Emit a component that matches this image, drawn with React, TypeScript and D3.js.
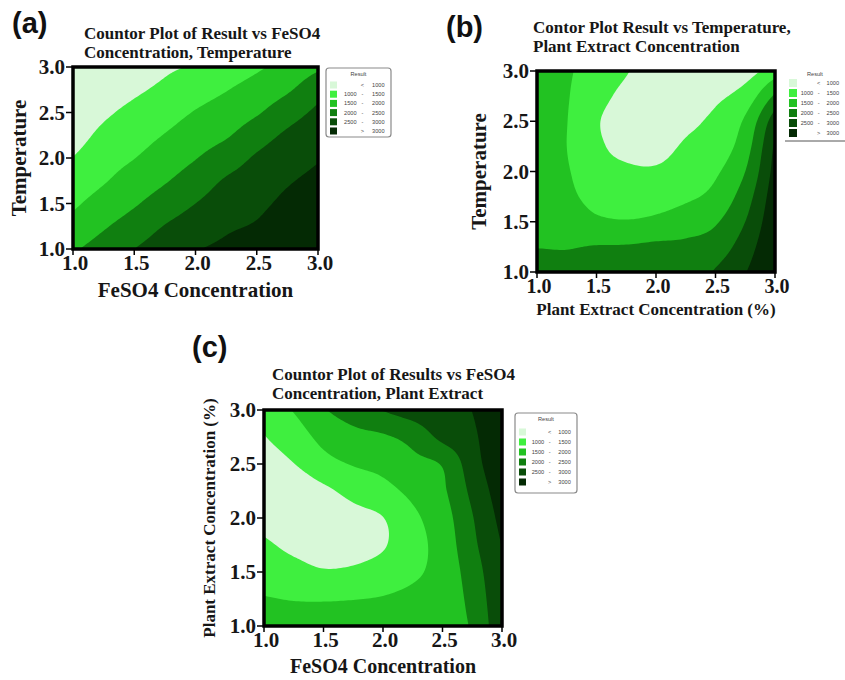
import React from "react";
import * as d3 from "d3";

// factor levels shown on every axis
const axisTicks = [1.0, 1.5, 2.0, 2.5, 3.0];
// levels of the grid the Result surface was read on (0.25 steps)
const gridLevels = [1.0, 1.25, 1.5, 1.75, 2.0, 2.25, 2.5, 2.75, 3.0];
const resultBreaks = [1000, 1500, 2000, 2500, 3000];
const resultColors = ["#d8f8d8", "#3fef3f", "#22c222", "#107f10", "#094d09", "#042a04"];
const legendRows = [
  ["", "<", "1000"],
  ["1000", "-", "1500"],
  ["1500", "-", "2000"],
  ["2000", "-", "2500"],
  ["2500", "-", "3000"],
  ["", ">", "3000"],
];

// rows: Temperature 1.0 -> 3.0, columns: FeSO4 1.0 -> 3.0
const resultFeSO4Temp = [
  [1940, 2210, 2500, 2760, 2970, 3100, 3250, 3400, 3500],
  [1670, 1950, 2220, 2520, 2740, 2930, 3050, 3300, 3400],
  [1420, 1700, 1950, 2230, 2500, 2740, 2880, 3120, 3280],
  [1210, 1460, 1720, 1960, 2240, 2550, 2720, 2950, 3130],
  [1010, 1290, 1490, 1740, 1980, 2260, 2560, 2770, 2960],
  [800, 1110, 1300, 1520, 1760, 1950, 2280, 2580, 2780],
  [650, 920, 1120, 1300, 1530, 1720, 1950, 2290, 2600],
  [520, 750, 930, 1090, 1290, 1480, 1690, 1940, 2320],
  [420, 600, 800, 930, 1050, 1250, 1430, 1670, 1920],
];

// rows: Temperature 1.0 -> 3.0, columns: Plant extract 1.0 -> 3.0
const resultPlantTemp = [
  [2200, 2150, 2120, 2100, 2120, 2200, 2550, 2980, 3600],
  [1990, 1980, 2020, 2030, 2080, 2100, 2250, 2750, 3500],
  [1850, 1800, 1590, 1530, 1600, 1750, 1950, 2500, 3400],
  [1780, 1620, 1330, 1290, 1300, 1420, 1650, 2260, 3300],
  [1740, 1540, 1180, 1070, 1050, 1200, 1430, 2000, 3180],
  [1720, 1500, 1080, 900, 880, 1050, 1230, 1780, 3070],
  [1700, 1510, 1040, 850, 800, 920, 1100, 1580, 2780],
  [1690, 1530, 1150, 900, 780, 850, 930, 1200, 2080],
  [1680, 1550, 1300, 1030, 800, 830, 830, 800, 1250],
];

// rows: Plant extract 1.0 -> 3.0, columns: FeSO4 1.0 -> 3.0
const resultFeSO4Plant = [
  [1750, 1720, 1700, 1700, 1720, 1760, 1800, 2060, 2900],
  [1530, 1480, 1470, 1490, 1530, 1620, 1720, 2150, 2930],
  [1250, 1150, 1040, 1080, 1220, 1420, 1680, 2250, 2960],
  [1070, 900, 800, 820, 960, 1330, 1700, 2380, 3020],
  [850, 700, 700, 850, 990, 1400, 1780, 2470, 3150],
  [750, 700, 900, 1150, 1350, 1620, 1920, 2620, 3280],
  [800, 990, 1330, 1530, 1640, 1860, 2040, 2780, 3400],
  [980, 1250, 1640, 1850, 1940, 2170, 2620, 2900, 3500],
  [1200, 1530, 1960, 2230, 2520, 2750, 2900, 3010, 3600],
];

const FINE = 12;
const serif = "'Liberation Serif', 'Times New Roman', serif";
const sans = "'Liberation Sans', Arial, sans-serif";
const ink = "#161616";

// smooth the read grid (Catmull-Rom) so the filled bands have round edges
function refine(grid: number[][]) {
  const rows = grid.length;
  const cols = grid[0].length;
  const at = (r: number, c: number): number => {
    if (r < 0) return 2 * at(0, c) - at(1, c);
    if (r >= rows) return 2 * at(rows - 1, c) - at(rows - 2, c);
    if (c < 0) return 2 * at(r, 0) - at(r, 1);
    if (c >= cols) return 2 * at(r, cols - 1) - at(r, cols - 2);
    return grid[r][c];
  };
  const cr = (p0: number, p1: number, p2: number, p3: number, t: number) =>
    0.5 * (2 * p1 + (p2 - p0) * t + (2 * p0 - 5 * p1 + 4 * p2 - p3) * t * t + (3 * p1 - p0 - 3 * p2 + p3) * t * t * t);
  const nx = (cols - 1) * FINE + 1;
  const ny = (rows - 1) * FINE + 1;
  const values: number[] = new Array(nx * ny);
  for (let j = 0; j < ny; j++) {
    const r = Math.min(rows - 2, Math.floor(j / FINE));
    const tv = j / FINE - r;
    for (let i = 0; i < nx; i++) {
      const c = Math.min(cols - 2, Math.floor(i / FINE));
      const tu = i / FINE - c;
      const col = [-1, 0, 1, 2].map((d) =>
        cr(at(r + d, c - 1), at(r + d, c), at(r + d, c + 1), at(r + d, c + 2), tu)
      );
      values[j * nx + i] = cr(col[0], col[1], col[2], col[3], tv);
    }
  }
  return { values, nx, ny };
}

type PanelProps = {
  id: string;
  grid: number[][];
  left: number;
  right: number;
  top: number;
  bottom: number;
  letter: string;
  letterX: number;
  letterY: number;
  title: string[];
  titleX: number;
  titleY: number;
  xLabel: string;
  xLabelY: number;
  xLabelSize: number;
  yLabel: string;
  yLabelX: number;
  yLabelSize: number;
  tickLabelY: number;
  tickSize: number;
};

function ContourPanel(p: PanelProps) {
  const x = d3.scaleLinear().domain([1, 3]).range([p.left, p.right]);
  const y = d3.scaleLinear().domain([1, 3]).range([p.bottom, p.top]);
  const { values, nx, ny } = refine(p.grid);
  const g0 = gridLevels[0];
  const g1 = gridLevels[gridLevels.length - 1];
  const gx = d3.scaleLinear().domain([0.5, nx - 0.5]).range([x(g0), x(g1)]);
  const gy = d3.scaleLinear().domain([0.5, ny - 0.5]).range([y(g0), y(g1)]);
  const path = d3.geoPath(
    d3.geoTransform({
      point(px: number, py: number) {
        this.stream.point(gx(px), gy(py));
      },
    })
  );
  const bands = d3.contours().size([nx, ny]).thresholds(resultBreaks)(values);
  const midX = (p.left + p.right) / 2;
  const midY = (p.top + p.bottom) / 2;

  return (
    <g>
      <defs>
        <clipPath id={p.id}>
          <rect x={p.left} y={p.top} width={p.right - p.left} height={p.bottom - p.top} />
        </clipPath>
      </defs>
      <text x={p.letterX} y={p.letterY} fontFamily={sans} fontWeight="bold" fontSize={29} fill="#111">
        {p.letter}
      </text>
      {p.title.map((t, i) => (
        <text key={i} x={p.titleX} y={p.titleY + i * 19} fontFamily={serif} fontWeight="bold" fontSize={17} fill={ink}>
          {t}
        </text>
      ))}
      <g clipPath={`url(#${p.id})`}>
        <rect x={p.left} y={p.top} width={p.right - p.left} height={p.bottom - p.top} fill={resultColors[0]} />
        {bands.map((b, i) => (
          <path key={i} d={path(b as any) || ""} fill={resultColors[i + 1]} />
        ))}
      </g>
      <rect
        x={p.left}
        y={p.top}
        width={p.right - p.left}
        height={p.bottom - p.top}
        fill="none"
        stroke="#000"
        strokeWidth={3.5}
      />
      {axisTicks.map((t) => (
        <g key={"x" + t}>
          <line x1={x(t)} x2={x(t)} y1={p.bottom} y2={p.bottom + 6} stroke="#000" strokeWidth={1.5} />
          <text
            x={x(t) + 2}
            y={p.tickLabelY}
            textAnchor="middle"
            fontFamily={serif}
            fontWeight="bold"
            fontSize={p.tickSize}
            fill={ink}
          >
            {t.toFixed(1)}
          </text>
        </g>
      ))}
      {axisTicks.map((t) => (
        <g key={"y" + t}>
          <line x1={p.left - 7} x2={p.left} y1={y(t)} y2={y(t)} stroke="#000" strokeWidth={1.5} />
          <text
            x={p.left - 8}
            y={y(t) + 7}
            textAnchor="end"
            fontFamily={serif}
            fontWeight="bold"
            fontSize={21}
            fill={ink}
          >
            {t.toFixed(1)}
          </text>
        </g>
      ))}
      <text x={midX} y={p.xLabelY} textAnchor="middle" fontFamily={serif} fontWeight="bold" fontSize={p.xLabelSize} fill={ink}>
        {p.xLabel}
      </text>
      <text
        transform={`translate(${p.yLabelX},${midY}) rotate(-90)`}
        textAnchor="middle"
        fontFamily={serif}
        fontWeight="bold"
        fontSize={p.yLabelSize}
        fill={ink}
      >
        {p.yLabel}
      </text>
    </g>
  );
}

type LegendProps = {
  x: number;
  y: number;
  width: number;
  height: number;
  rowTop: number;
  rowStep: number;
  boxed: boolean;
  sw: number;
};

function Legend(l: LegendProps) {
  const fs = 5.6;
  const rows = d3.range(legendRows.length);
  const ry = d3.scaleLinear().domain([0, 1]).range([l.rowTop, l.rowTop + l.rowStep]);
  const sx = l.x + 4;
  return (
    <g fontFamily={sans} fontSize={fs} fill="#444">
      {l.boxed ? (
        <rect x={l.x} y={l.y} width={l.width} height={l.height} rx={3} fill="#fff" stroke="#8a8a8a" strokeWidth={1.2} />
      ) : (
        <line x1={l.x} x2={l.x + l.width} y1={l.y + l.height} y2={l.y + l.height} stroke="#555" strokeWidth={1} />
      )}
      <text x={l.x + l.width / 2} y={l.y + 8} textAnchor="middle">
        Result
      </text>
      {rows.map((i) => (
        <g key={i}>
          <rect x={sx} y={ry(i) - l.sw / 2} width={l.sw} height={l.sw} fill={resultColors[i]} />
          <text x={l.x + l.width * 0.47} y={ry(i) + 2} textAnchor="end">
            {legendRows[i][0]}
          </text>
          <text x={l.x + l.width * 0.56} y={ry(i) + 2} textAnchor="middle">
            {legendRows[i][1]}
          </text>
          <text x={l.x + l.width * 0.9} y={ry(i) + 2} textAnchor="end">
            {legendRows[i][2]}
          </text>
        </g>
      ))}
    </g>
  );
}

export default function App() {
  return (
    <svg
      width={845}
      height={680}
      style={{ position: "absolute", left: 0, top: 0, background: "#fff" }}
    >
      <ContourPanel
        id="clipA"
        grid={resultFeSO4Temp}
        left={73}
        right={318}
        top={67}
        bottom={249}
        letter="(a)"
        letterX={12}
        letterY={33}
        title={["Countor Plot of Result vs FeSO4", "Concentration, Temperature"]}
        titleX={84}
        titleY={39}
        xLabel="FeSO4 Concentration"
        xLabelY={297}
        xLabelSize={21}
        yLabel="Temperature"
        yLabelX={26}
        yLabelSize={21}
        tickLabelY={270}
        tickSize={21}
      />
      <Legend x={326} y={68} width={65} height={69} rowTop={85} rowStep={9.2} boxed={true} sw={7} />

      <ContourPanel
        id="clipB"
        grid={resultPlantTemp}
        left={537}
        right={775}
        top={71}
        bottom={272}
        letter="(b)"
        letterX={446}
        letterY={37}
        title={["Contor Plot Result vs Temperature,", "Plant Extract Concentration"]}
        titleX={533}
        titleY={33}
        xLabel="Plant Extract Concentration (%)"
        xLabelY={315}
        xLabelSize={17}
        yLabel="Temperature"
        yLabelX={486}
        yLabelSize={21}
        tickLabelY={293}
        tickSize={20}
      />
      <Legend x={785} y={68} width={60} height={73} rowTop={83} rowStep={10} boxed={false} sw={8} />

      <ContourPanel
        id="clipC"
        grid={resultFeSO4Plant}
        left={264}
        right={502}
        top={410}
        bottom={626}
        letter="(c)"
        letterX={192}
        letterY={357}
        title={["Countor Plot of Results vs FeSO4", "Concentration, Plant Extract"]}
        titleX={272}
        titleY={380}
        xLabel="FeSO4 Concentration"
        xLabelY={673}
        xLabelSize={20}
        yLabel="Plant Extract Concentration (%)"
        yLabelX={215}
        yLabelSize={17}
        tickLabelY={647}
        tickSize={21}
      />
      <Legend x={515} y={413} width={62} height={80} rowTop={432} rowStep={10} boxed={true} sw={7} />
    </svg>
  );
}
